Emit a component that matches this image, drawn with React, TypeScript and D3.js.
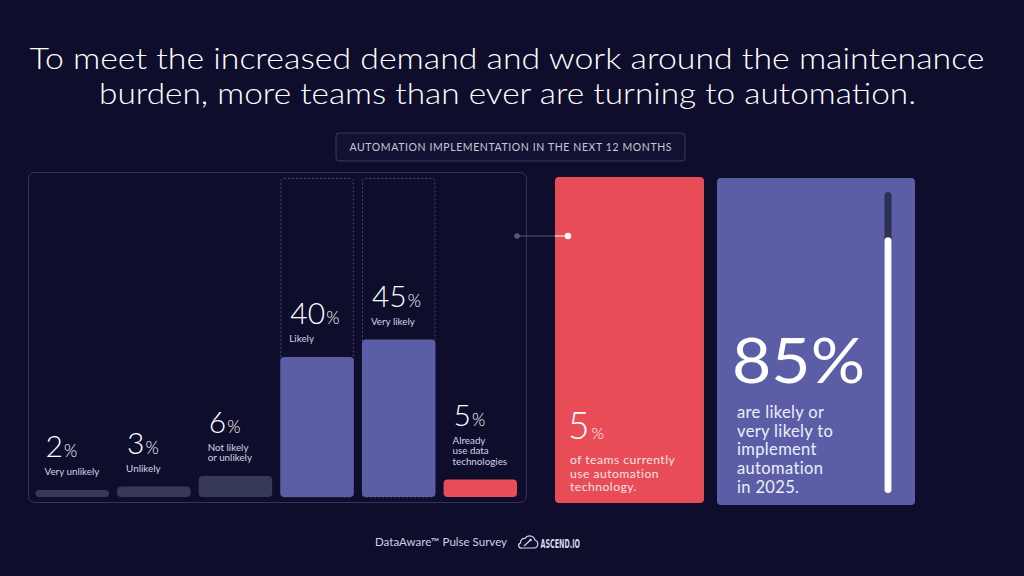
import React from "react";
import * as d3 from "d3";

const categories = ["Very unlikely", "Unlikely", "Not likely or unlikely", "Likely", "Very likely", "Already use data technologies"];
const labelLines = [["Very unlikely"], ["Unlikely"], ["Not likely", "or unlikely"], ["Likely"], ["Very likely"], ["Already", "use data", "technologies"]];
const values = [2, 3, 6, 40, 45, 5];
const barKinds = ["low", "low", "low", "high", "high", "current"];
const currentUse = 5;
const likelyTotal = 85;
const titleLines = [
  "To meet the increased demand and work around the maintenance",
  "burden, more teams than ever are turning to automation.",
];
const subtitle = "AUTOMATION IMPLEMENTATION IN THE NEXT 12 MONTHS";
const redText = ["of teams currently", "use automation", "technology."];
const blueText = ["are likely or", "very likely to", "implement", "automation", "in 2025."];

const BG = "#0e0d2c";
const FONT = "Lato, 'Noto Sans', sans-serif";
const colorOf: Record<string, string> = { low: "#363a58", high: "#5b5ea6", current: "#e84c57" };

export default function App() {
  const x = d3.scaleBand<string>().domain(categories).range([35.5, 517]).paddingInner(0.1).paddingOuter(0);
  const y = d3.scaleLinear().domain([0, 100]).range([497, 147]);
  const bw = x.bandwidth();

  const gauge = d3.scaleLinear().domain([0, 100]).range([493, 192]);

  return (
    <svg width={1024} height={576} style={{ position: "fixed", left: 0, top: 0 }} fontFamily={FONT}>
      <rect width={1024} height={576} fill={BG} />
      {/* Title */}
      <text x={507} y={69} textAnchor="middle" fill="#fff" fontSize={30} fontWeight={300} textLength={955} lengthAdjust="spacingAndGlyphs">{titleLines[0]}</text>
      <text x={507.5} y={104} textAnchor="middle" fill="#fff" fontSize={30} fontWeight={300} textLength={817} lengthAdjust="spacingAndGlyphs">{titleLines[1]}</text>

      {/* Subtitle box */}
      <rect x={336} y={133} width={349} height={28} rx={3} fill="#121131" stroke="#3a3b5c" strokeWidth={1} />
      <text x={510.5} y={151} textAnchor="middle" fill="#c8c8d8" fontSize={10.5} textLength={322} lengthAdjust="spacing">{subtitle}</text>

      {/* Main panel */}
      <rect x={28.5} y={172.5} width={498} height={330} rx={6} fill="none" stroke="#34345a" strokeWidth={1} />

      {/* dotted frames */}
      {categories.map((c, i) =>
        barKinds[i] === "high" ? (
          <rect key={"f" + c} x={x(c)! + 0.5} y={178.5} width={bw - 1} height={y(0) - 178.5} rx={3} fill="none" stroke="#4a4b6c" strokeWidth={1} strokeDasharray="2,2" />
        ) : null
      )}

      {/* Bars */}
      {categories.map((c, i) => {
        const top = y(values[i]);
        const h = y(0) - top;
        return <rect key={"b" + c} x={x(c)!} y={top} width={bw} height={h} rx={Math.min(4, h / 2)} fill={colorOf[barKinds[i]]} />;
      })}

      {/* Labels */}
      {categories.map((c, i) => {
        const top = y(values[i]);
        const lines = labelLines[i];
        const lastBase = top - 15;
        const firstBase = lastBase - (lines.length - 1) * 10.3;
        const lx = x(c)! + 10;
        return (
          <g key={"l" + c}>
            <text x={lx} y={firstBase - 18} fill="#fff" fontWeight={300}>
              <tspan fontSize={30}>{values[i]}</tspan>
              <tspan fontSize={17} dx={1}>%</tspan>
            </text>
            <text x={lx - 1} y={firstBase} fill="#d2d3e3" fontSize={9.8}>
              {lines.map((ln, j) => (
                <tspan key={j} x={lx - 1} dy={j === 0 ? 0 : 10.3}>{ln}</tspan>
              ))}
            </text>
          </g>
        );
      })}

      {/* connector */}
      <line x1={517} y1={236} x2={555} y2={236} stroke="#55567a" strokeWidth={1} />
      <circle cx={517} cy={236} r={2.8} fill="#55567a" />

      {/* Red panel */}
      <rect x={555} y={177} width={149} height={326} rx={4} fill="#e84c57" />
      <line x1={555} y1={236} x2={568} y2={236} stroke="#fff" strokeWidth={1} />
      <circle cx={568} cy={236} r={3.2} fill="#fff" />
      <text x={568} y={439} fill="#fff" fontWeight={300}>
        <tspan fontSize={37}>{currentUse}</tspan>
        <tspan fontSize={16} dx={2}>%</tspan>
      </text>
      <text x={570} y={464} fill="#fbe3e5" fontSize={12.2} letterSpacing={0.45}>
        {redText.map((t, j) => (
          <tspan key={j} x={570} dy={j === 0 ? 0 : 13.5}>{t}</tspan>
        ))}
      </text>

      {/* Blue panel */}
      <rect x={717} y={178} width={198} height={327} rx={4} fill="#5b5ea6" />
      <rect x={884.5} y={gauge(100)} width={7} height={gauge(0) - gauge(100)} rx={3.5} fill="#2f3152" />
      <rect x={884.5} y={gauge(likelyTotal)} width={7} height={gauge(0) - gauge(likelyTotal)} rx={3.5} fill="#fff" />
      <text x={732} y={383} fill="#fff" fontSize={62} fontWeight={400} textLength={133} lengthAdjust="spacingAndGlyphs">{likelyTotal}%</text>
      <text x={737} y={418} fill="#eeeef8" fontSize={16.5} letterSpacing={0.35}>
        {blueText.map((t, j) => (
          <tspan key={j} x={737} dy={j === 0 ? 0 : 18.7}>{t}</tspan>
        ))}
      </text>

      {/* Footer */}
      <text x={375} y={546} fill="#cfd0e0" fontSize={11} textLength={132} lengthAdjust="spacingAndGlyphs">DataAware™ Pulse Survey</text>
      <g fill="none" stroke="#d6d7e6" strokeWidth={1.2} strokeLinejoin="round">
        <path d="M522,548 H534 A4,4 0 0 0 535,540.2 A5.5,5.5 0 0 0 525,538.5 A4,4 0 0 0 520.5,543 A2.6,2.6 0 0 0 522,548 Z" />
        <path d="M524,546 L530,540.5" />
      </g>
      <circle cx={530.5} cy={540} r={1.3} fill="#d6d7e6" />
      <text x={540.5} y={548} fill="#d6d7e6" fontSize={12.5} fontWeight={700} fontFamily="'Liberation Sans Narrow', 'DejaVu Sans Condensed', sans-serif" textLength={39.5} lengthAdjust="spacingAndGlyphs">ASCEND.IO</text>
    </svg>
  );
}
